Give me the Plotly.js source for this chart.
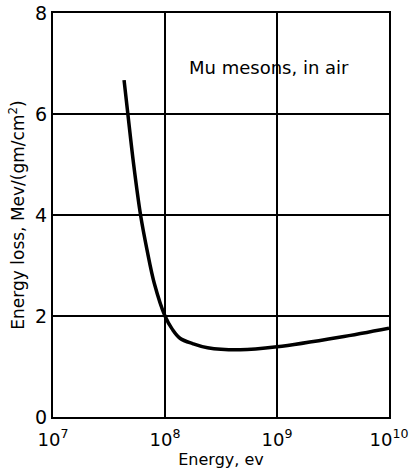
<!DOCTYPE html>
<html>
<head>
<meta charset="utf-8">
<script src="https://cdn.plot.ly/plotly-3.0.1.min.js"></script>
<style>html,body{margin:0;padding:0;background:#fff;}#chart{width:412px;height:469px;}</style>
</head>
<body>
<div id="chart"></div>
<script>
const energyEv = [4.31e7, 4.66e7, 5.25e7, 6.05e7, 6.91e7, 8.02e7, 1.0e8, 1.16e8, 1.36e8, 1.78e8, 2.4e8, 4.7e8, 1.0e9, 3.6e9, 1.0e10];
const energyLoss = [6.67, 6.0, 5.0, 4.0, 3.31, 2.65, 2.0, 1.74, 1.56, 1.45, 1.37, 1.33, 1.39, 1.58, 1.76];
const xTickVals = [1e7, 1e8, 1e9, 1e10];
const xTickText = ["10<sup>7</sup>", "10<sup>8</sup>", "10<sup>9</sup>", "10<sup>10</sup>"];
const yTickVals = [0, 2, 4, 6, 8];
const labelText = "Mu mesons, in air";

const font = "DejaVu Sans, Arial, sans-serif";
const trace = {
  x: energyEv, y: energyLoss, type: "scatter", mode: "lines",
  line: {color: "#000", width: 3.5, shape: "spline", smoothing: 1},
  hoverinfo: "skip"
};
const layout = {
  width: 412, height: 469,
  margin: {l: 53, r: 23, t: 13, b: 52},
  paper_bgcolor: "#fff", plot_bgcolor: "#fff",
  showlegend: false,
  font: {family: font, color: "#000"},
  xaxis: {
    type: "log", range: [7, 10],
    tickvals: xTickVals, ticktext: xTickText,
    ticks: "", tickfont: {size: 18, family: font},
    ticklabelstandoff: 5,
    showgrid: true, gridcolor: "#000", gridwidth: 1.5,
    showline: true, linecolor: "#000", linewidth: 2, mirror: true,
    zeroline: false,
    title: {text: "Energy, ev", font: {size: 16, family: font}, standoff: 4}
  },
  yaxis: {
    range: [0, 8], tickvals: yTickVals,
    ticks: "", tickfont: {size: 19, family: font},
    ticklabelstandoff: 0,
    showgrid: true, gridcolor: "#000", gridwidth: 1.5,
    showline: true, linecolor: "#000", linewidth: 2, mirror: true,
    zeroline: false,
    title: {text: "Energy loss, Mev/(gm/cm<sup>2</sup>)", font: {size: 17, family: font}, standoff: 6}
  },
  annotations: [{
    x: 8.93, y: 6.93, xref: "x", yref: "y",
    text: labelText, showarrow: false,
    font: {size: 18, family: font, color: "#000"}
  }]
};
Plotly.newPlot("chart", [trace], layout, {staticPlot: true, displayModeBar: false});
</script>
</body>
</html>
